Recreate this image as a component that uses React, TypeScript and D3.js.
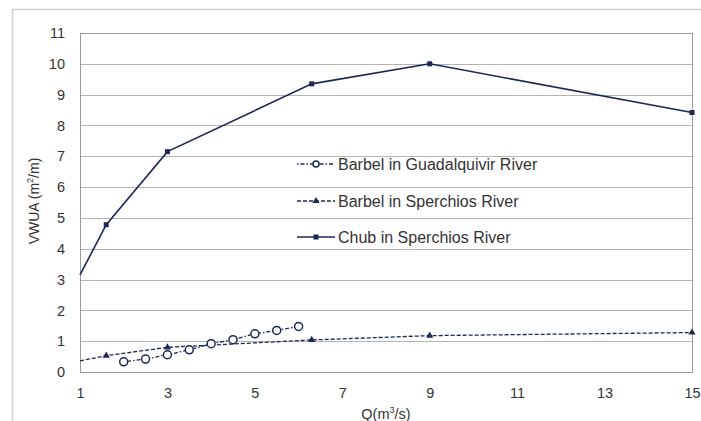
import React, { useEffect, useRef } from "react"
import * as d3 from "d3"

// Q (m3/s) values and VWUA (m2/m) per series
const chubQ = [1, 1.6, 3, 6.3, 9, 15]
const chubVWUA = [3.15, 4.78, 7.15, 9.35, 10.0, 8.42]

const barbelSperchiosQ = [1, 1.6, 3, 6.3, 9, 15]
const barbelSperchiosVWUA = [0.36, 0.53, 0.8, 1.04, 1.18, 1.28]

const barbelGuadQ = [2, 2.5, 3, 3.5, 4, 4.5, 5, 5.5, 6]
const barbelGuadVWUA = [0.33, 0.42, 0.56, 0.72, 0.92, 1.05, 1.24, 1.35, 1.48]

const xTicks = [1, 3, 5, 7, 9, 11, 13, 15]
const yTicks = [0, 1, 2, 3, 4, 5, 6, 7, 8, 9, 10, 11]

const legendNames = ["Barbel in Guadalquivir River", "Barbel in Sperchios River", "Chub in Sperchios River"]

const W = 701
const H = 421
const navy = "#1c2757"
const font = "Liberation Sans, Arial, sans-serif"

export default function App() {
  const ref = useRef<SVGSVGElement>(null)

  useEffect(() => {
    document.body.style.margin = "0"
    document.body.style.overflow = "hidden"
    const svg = d3.select(ref.current)
    svg.selectAll("*").remove()

    const pad = { left: 80, right: 9, top: 33, bottom: 49 }
    const x = d3.scaleLinear().domain([1, 15]).range([pad.left, W - pad.right])
    const y = d3.scaleLinear().domain([0, 11]).range([H - pad.bottom, pad.top])

    svg.append("rect").attr("width", W).attr("height", H).attr("fill", "#fff")

    // outer frame (top and left)
    svg.append("path")
      .attr("d", `M12.5,${H} V9.5 H${W}`)
      .attr("fill", "none").attr("stroke", "#d0d0d0").attr("stroke-width", 1.5)

    // grid
    svg.append("g").selectAll("line").data(yTicks).enter().append("line")
      .attr("x1", x(1)).attr("x2", x(15))
      .attr("y1", d => Math.round(y(d)) + 0.5).attr("y2", d => Math.round(y(d)) + 0.5)
      .attr("stroke", "#b4b4b4").attr("stroke-width", 1)

    svg.append("rect")
      .attr("x", x(1) + 0.5).attr("y", Math.round(y(11)) + 0.5)
      .attr("width", x(15) - x(1)).attr("height", y(0) - y(11))
      .attr("fill", "none").attr("stroke", "#9a9a9a")

    // axes
    const xAxis = d3.axisBottom(x).tickValues(xTicks).tickSize(0).tickPadding(16).tickFormat(d3.format("d"))
    const gx = svg.append("g").attr("transform", `translate(0,${y(0)})`).call(xAxis)
    gx.select(".domain").remove()
    gx.selectAll("text").attr("font-family", font).attr("font-size", 14.5).attr("fill", "#333")

    const yAxis = d3.axisLeft(y).tickValues(yTicks).tickSize(0).tickPadding(15).tickFormat(d3.format("d"))
    const gy = svg.append("g").attr("transform", `translate(${x(1)},0)`).call(yAxis)
    gy.select(".domain").remove()
    gy.selectAll("text").attr("font-family", font).attr("font-size", 14.5).attr("fill", "#333")

    // axis titles
    const xt = svg.append("text").attr("x", 386).attr("y", 419).attr("text-anchor", "middle")
      .attr("font-family", font).attr("font-size", 14.5).attr("fill", "#333")
    xt.append("tspan").text("Q(m")
    xt.append("tspan").text("3").attr("font-size", 9).attr("dy", -6)
    xt.append("tspan").text("/s)").attr("dy", 6)

    const yt = svg.append("text").attr("transform", "translate(39,201) rotate(-90)").attr("text-anchor", "middle")
      .attr("font-family", font).attr("font-size", 14).attr("fill", "#333")
    yt.append("tspan").text("VWUA (m")
    yt.append("tspan").text("2").attr("font-size", 9).attr("dy", -6)
    yt.append("tspan").text("/m)").attr("dy", 6)

    const line = d3.line<[number, number]>().x(d => x(d[0])).y(d => y(d[1]))

    const guad = barbelGuadQ.map((q, i) => [q, barbelGuadVWUA[i]] as [number, number])
    const sperch = barbelSperchiosQ.map((q, i) => [q, barbelSperchiosVWUA[i]] as [number, number])
    const chub = chubQ.map((q, i) => [q, chubVWUA[i]] as [number, number])

    // Barbel Sperchios - dashed with triangles
    svg.append("path").attr("d", line(sperch)).attr("fill", "none")
      .attr("stroke", navy).attr("stroke-width", 1.3).attr("stroke-dasharray", "4,2")
    const tri = d3.symbol().type(d3.symbolTriangle).size(22)
    svg.append("g").selectAll("path").data(sperch.filter(d => d[0] > 1)).enter().append("path")
      .attr("d", tri).attr("transform", d => `translate(${x(d[0])},${y(d[1])})`).attr("fill", navy)

    // Barbel Guadalquivir - dash dot, open circles
    svg.append("path").attr("d", line(guad)).attr("fill", "none")
      .attr("stroke", navy).attr("stroke-width", 1.3).attr("stroke-dasharray", "1.5,2,4,2")
    svg.append("g").selectAll("circle").data(guad).enter().append("circle")
      .attr("cx", d => x(d[0])).attr("cy", d => y(d[1])).attr("r", 4)
      .attr("fill", "#fff").attr("stroke", navy).attr("stroke-width", 1.5)

    // Chub - solid, squares
    svg.append("path").attr("d", line(chub)).attr("fill", "none")
      .attr("stroke", navy).attr("stroke-width", 1.6)
    svg.append("g").selectAll("rect").data(chub.filter(d => d[0] > 1)).enter().append("rect")
      .attr("x", d => x(d[0]) - 2.5).attr("y", d => y(d[1]) - 2.5).attr("width", 5).attr("height", 5)
      .attr("fill", navy)

    // legend
    const lg = svg.append("g").attr("transform", "translate(297,0)")
    const rows = [164, 201, 237]
    const dashes = ["1.5,2,4,2", "4,2", null]
    rows.forEach((ry, i) => {
      lg.append("line").attr("x1", 0).attr("x2", 38).attr("y1", ry).attr("y2", ry)
        .attr("stroke", navy).attr("stroke-width", 1.3).attr("stroke-dasharray", dashes[i])
      if (i === 0) {
        lg.append("circle").attr("cx", 19).attr("cy", ry).attr("r", 3).attr("fill", "#fff").attr("stroke", navy).attr("stroke-width", 1.5)
      } else if (i === 1) {
        lg.append("path").attr("d", tri).attr("transform", `translate(19,${ry})`).attr("fill", navy)
      } else {
        lg.append("rect").attr("x", 16.5).attr("y", ry - 2.5).attr("width", 5).attr("height", 5).attr("fill", navy)
      }
      lg.append("text").attr("x", 41).attr("y", ry).attr("dy", "0.35em").text(legendNames[i])
        .attr("font-family", font).attr("font-size", 16).attr("fill", "#333")
    })
  }, [])

  return <svg ref={ref} width={W} height={H} style={{ display: "block" }} />
}
